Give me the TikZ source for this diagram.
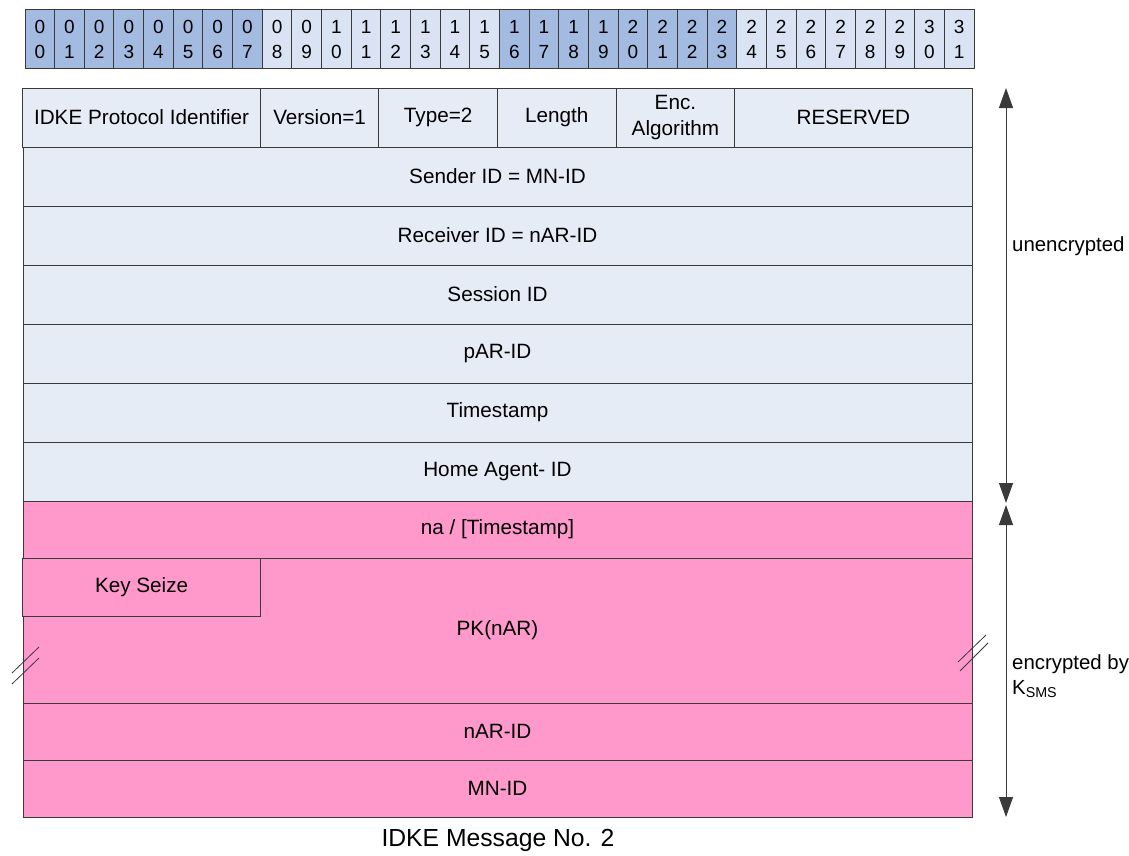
\documentclass[tikz,border=0pt]{standalone}
\usepackage{fontspec}
\setmainfont{Liberation Sans}
\usepackage{tikz}
\usetikzlibrary{arrows.meta}
\definecolor{hdark}{HTML}{A3BBE0}
\definecolor{hlight}{HTML}{DAE3F3}
\definecolor{plain}{HTML}{E6ECF6}
\definecolor{crypt}{HTML}{FF99CC}
\definecolor{rule}{HTML}{3A3A3A}

\begin{document}
\begin{tikzpicture}[x=1pt, y=-1pt, >={Triangle[length=20pt, width=14pt]}, bit/.style = {draw=rule, line width=1pt, minimum width=29.656pt, minimum height=59pt, inner sep=0pt}, digit/.style = {inner sep=0pt, font=\fontsize{19}{19}\selectfont}, field/.style = {draw=rule, line width=1pt, fill=plain, inner sep=0pt, minimum height=59pt, align=center, font=\fontsize{20.7}{26}\selectfont}, secret/.style = {field, fill=crypt, minimum height=57pt}, note/.style = {anchor=west, align=left, inner sep=0pt, font=\fontsize{20.4}{25}\selectfont}]
\useasboundingbox (0,0) rectangle (1129,855);

\foreach \i in {0,...,31} {
 \pgfmathtruncatemacro\tens{\i/10}
 \pgfmathtruncatemacro\ones{mod(\i,10)}
 \pgfmathtruncatemacro\band{mod(floor(\i/8),2)}
 \ifnum\band=0 \def\bitfill{hdark}\else\def\bitfill{hlight}\fi
 \node[bit, fill=\bitfill] (b\i) at ({25+29.656*(\i+0.5)}, 38.5) {};
 \node[digit] (t\i) at ([yshift=11.5pt]b\i.center) {\tens};
 \node[digit] (o\i) at ([yshift=-13.5pt]b\i.center) {\ones};
}

\node[field, minimum width=237.25pt] (idke) at (141.6,117.5) {IDKE Protocol Identifier};
\node[field, minimum width=118.6pt] (version) at (319.6,117.5) {Version=1};
\node[field, minimum width=118.6pt] (type) at (438.2,117.5) {Type=2};
\node[field, minimum width=118.6pt] (length) at (556.8,117.5) {Length};
\node[field, minimum width=118.6pt] (enc) at (675.4,117.5) {Enc.\\Algorithm};
\node[field, minimum width=237.25pt] (reserved) at (853.4,117.5) {RESERVED};
\node[field, minimum width=949pt] (sender) at (497.5,176.5) {Sender ID = MN-ID};
\node[field, minimum width=949pt] (receiver) at (497.5,235.5) {Receiver ID = nAR-ID};
\node[field, minimum width=949pt] (session) at (497.5,294.5) {Session ID};
\node[field, minimum width=949pt] (par) at (497.5,353.5) {pAR-ID};
\node[field, minimum width=949pt] (time) at (497.5,412.5) {Timestamp};
\node[field, minimum width=949pt] (home) at (497.5,471.5) {Home Agent- ID};

\node[secret, minimum width=949pt] (na) at (497.5,529.5) {na / [Timestamp]};
\node[secret, minimum width=949pt, minimum height=145pt] (pk) at (497.5,630.5) {PK(nAR)};
\node[secret, minimum width=237.25pt, minimum height=58pt] (keyseize) at (141.6,587) {Key Seize};
\node[secret, minimum width=949pt] (nar) at (497.5,731.5) {nAR-ID};
\node[secret, minimum width=949pt] (mn) at (497.5,788.5) {MN-ID};

\draw[rule, line width=0.8pt] (12,673) -- (39,647) (12,684) -- (39,658);
\draw[rule, line width=0.8pt] (958,662) -- (986,635) (960,671) -- (988,643);

\coordinate (u1) at (1006,88);
\coordinate (u2) at (1006,503);
\coordinate (e1) at (1006,505);
\coordinate (e2) at (1006,817);
\draw[<->, rule, line width=1pt] (u1) -- (u2);
\draw[<->, rule, line width=1pt] (e1) -- (e2);

\node[note] (plainlbl) at (1012,246) {unencrypted};
\node[note] (cryptlbl) at (1012,676) {encrypted by\\K\textsubscript{SMS}};

\node[font=\fontsize{24.7}{30}\selectfont] (caption) at (498,840) {IDKE Message No. 2};
\end{tikzpicture}
\end{document}
